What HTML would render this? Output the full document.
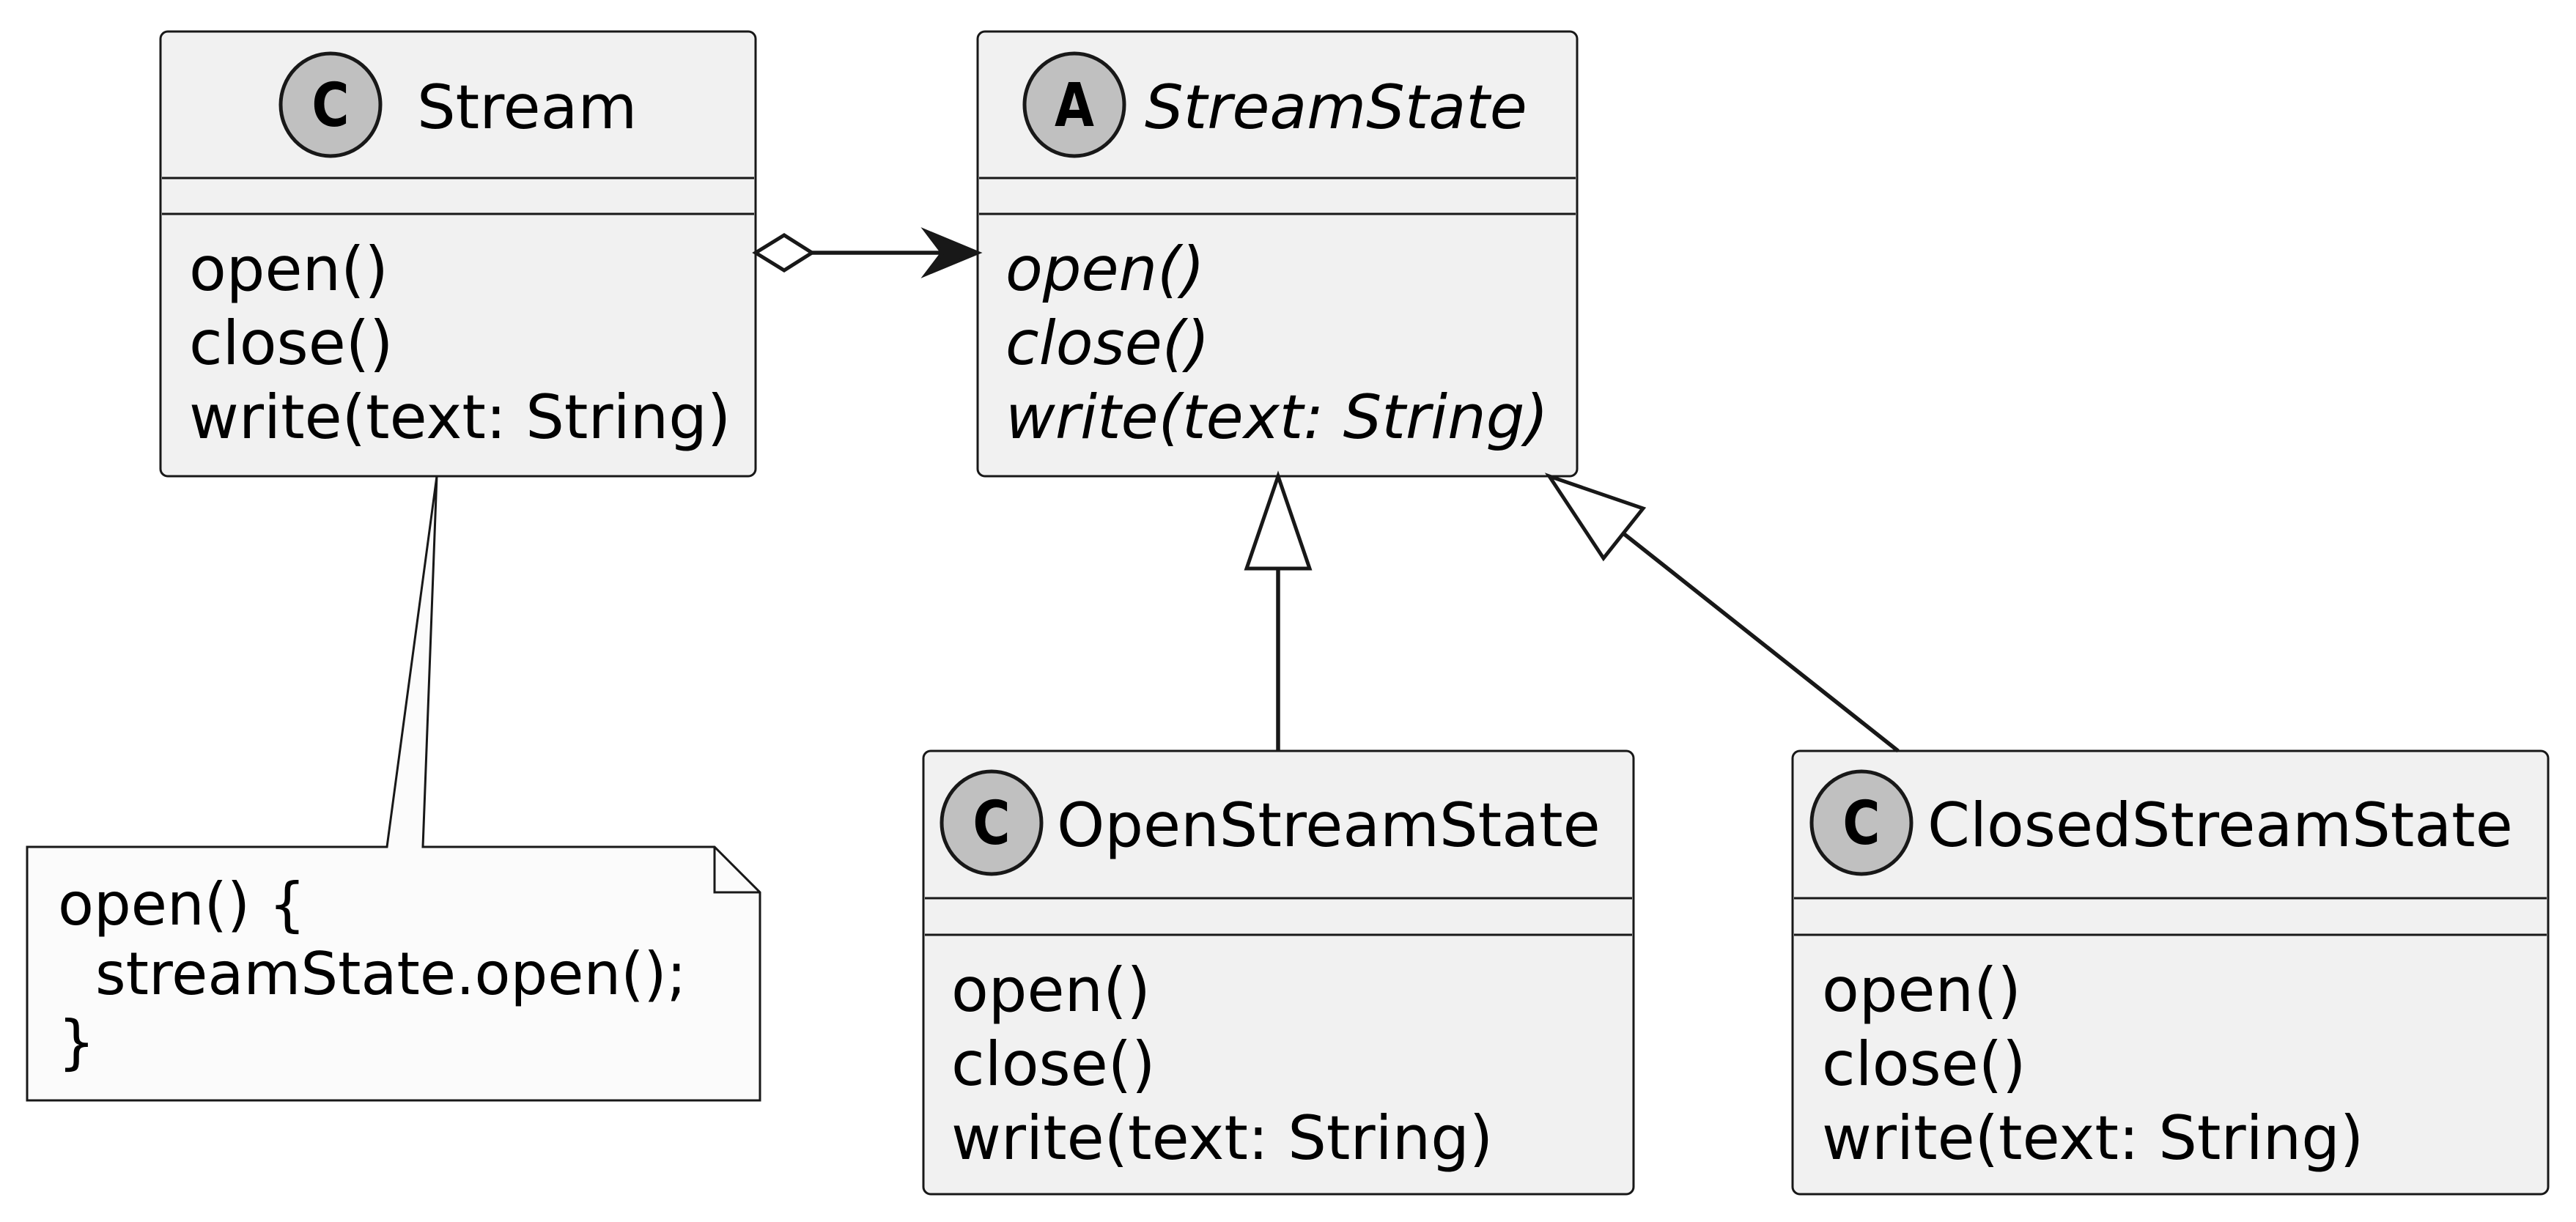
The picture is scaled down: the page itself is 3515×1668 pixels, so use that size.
<!DOCTYPE html>
<html><head><meta charset="utf-8"><style>
html,body{margin:0;padding:0;background:#fff;}
svg{display:block;}
text{font-family:"DejaVu Sans","Liberation Sans",sans-serif;fill:#000;}
</style></head><body>
<svg width="3515" height="1668" viewBox="0 0 3515 1668" xmlns="http://www.w3.org/2000/svg">
<!-- Stream -->
<rect x="219" y="43" width="812" height="607" rx="10" fill="#F1F1F1" stroke="#181818" stroke-width="3"/>
<ellipse cx="451" cy="143" rx="68" ry="70" fill="#C0C0C0" stroke="#181818" stroke-width="5"/>
<text x="451" y="172" font-size="82" font-weight="bold" text-anchor="middle" transform="translate(451 0) scale(0.85 1) translate(-451 0)">C</text>
<text x="569" y="175" font-size="83">Stream</text>
<line x1="221" y1="243" x2="1029" y2="243" stroke="#181818" stroke-width="3"/>
<line x1="221" y1="292" x2="1029" y2="292" stroke="#181818" stroke-width="3"/>
<text x="258" y="396" font-size="83">open()</text>
<text x="258" y="497" font-size="83">close()</text>
<text x="258" y="598" font-size="83">write(text: String)</text>

<!-- StreamState -->
<rect x="1334" y="43" width="818" height="607" rx="10" fill="#F1F1F1" stroke="#181818" stroke-width="3"/>
<ellipse cx="1466" cy="143" rx="68" ry="70" fill="#C0C0C0" stroke="#181818" stroke-width="5"/>
<text x="1466" y="172" font-size="82" font-weight="bold" text-anchor="middle" transform="translate(1466 0) scale(0.85 1) translate(-1466 0)">A</text>
<text x="1562" y="175" font-size="83" font-style="italic">StreamState</text>
<line x1="1336" y1="243" x2="2150" y2="243" stroke="#181818" stroke-width="3"/>
<line x1="1336" y1="292" x2="2150" y2="292" stroke="#181818" stroke-width="3"/>
<text x="1372" y="396" font-size="83" font-style="italic">open()</text>
<text x="1372" y="497" font-size="83" font-style="italic">close()</text>
<text x="1372" y="598" font-size="83" font-style="italic">write(text: String)</text>

<!-- OpenStreamState -->
<rect x="1260" y="1025" width="969" height="605" rx="10" fill="#F1F1F1" stroke="#181818" stroke-width="3"/>
<ellipse cx="1353" cy="1123" rx="68" ry="70" fill="#C0C0C0" stroke="#181818" stroke-width="5"/>
<text x="1353" y="1152" font-size="82" font-weight="bold" text-anchor="middle" transform="translate(1353 0) scale(0.85 1) translate(-1353 0)">C</text>
<text x="1442" y="1155" font-size="83">OpenStreamState</text>
<line x1="1262" y1="1226" x2="2227" y2="1226" stroke="#181818" stroke-width="3"/>
<line x1="1262" y1="1276" x2="2227" y2="1276" stroke="#181818" stroke-width="3"/>
<text x="1298" y="1380" font-size="83">open()</text>
<text x="1298" y="1481" font-size="83">close()</text>
<text x="1298" y="1582" font-size="83">write(text: String)</text>

<!-- ClosedStreamState -->
<rect x="2446" y="1025" width="1031" height="605" rx="10" fill="#F1F1F1" stroke="#181818" stroke-width="3"/>
<ellipse cx="2540" cy="1123" rx="68" ry="70" fill="#C0C0C0" stroke="#181818" stroke-width="5"/>
<text x="2540" y="1152" font-size="82" font-weight="bold" text-anchor="middle" transform="translate(2540 0) scale(0.85 1) translate(-2540 0)">C</text>
<text x="2630" y="1155" font-size="83">ClosedStreamState</text>
<line x1="2448" y1="1226" x2="3475" y2="1226" stroke="#181818" stroke-width="3"/>
<line x1="2448" y1="1276" x2="3475" y2="1276" stroke="#181818" stroke-width="3"/>
<text x="2486" y="1380" font-size="83">open()</text>
<text x="2486" y="1481" font-size="83">close()</text>
<text x="2486" y="1582" font-size="83">write(text: String)</text>

<!-- aggregation -->
<line x1="1108" y1="345" x2="1300" y2="345" stroke="#181818" stroke-width="5.5"/>
<polygon points="1031,345 1070,321 1108,345 1070,369" fill="#fff" stroke="#181818" stroke-width="5"/>
<polygon points="1334,345 1264,316 1286,345 1264,374" fill="#181818" stroke="#181818" stroke-width="5"/>

<!-- generalization 1 -->
<line x1="1744" y1="1025" x2="1744" y2="776" stroke="#181818" stroke-width="5.5"/>
<polygon points="1744,650 1701,776 1787,776" fill="#fff" stroke="#181818" stroke-width="5"/>
<!-- generalization 2 -->
<line x1="2590" y1="1025" x2="2215" y2="728" stroke="#181818" stroke-width="5.5"/>
<polygon points="2114,650 2242,694 2188,762" fill="#fff" stroke="#181818" stroke-width="5"/>

<!-- note -->
<polygon points="37,1156 528,1156 596,650 577,1156 975,1156 1037,1218 1037,1502 37,1502" fill="#FBFBFB" stroke="#181818" stroke-width="3"/>
<polyline points="975,1156 975,1218 1037,1218" fill="none" stroke="#181818" stroke-width="3"/>
<text x="79" y="1262" font-size="80">open() {</text>
<text x="130" y="1357" font-size="80">streamState.open();</text>
<text x="79" y="1450" font-size="80">}</text>
</svg>
</body></html>
